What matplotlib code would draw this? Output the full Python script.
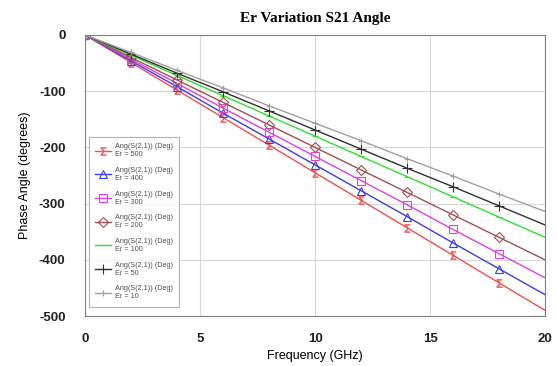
import numpy as np
import matplotlib
matplotlib.use('Agg')
import matplotlib.pyplot as plt

plt.rcParams['font.family'] = ['Liberation Sans', 'DejaVu Sans']
plt.rcParams['axes.unicode_minus'] = False

freq = [0, 2, 4, 6, 8, 10, 12, 14, 16, 18, 20]
er_labels = ['500', '400', '300', '200', '100', '50', '10']
angle_500 = [0, -49, -98, -147, -196, -245, -294, -343, -392, -441, -490]
angle_400 = [0, -46, -92, -139, -185, -231, -277, -323, -370, -416, -462]
angle_300 = [0, -43, -86, -130, -173, -216, -259, -302, -346, -389, -432]
angle_200 = [0, -40, -80, -120, -160, -200, -240, -280, -320, -360, -400]
angle_100 = [0, -36, -72, -108, -144, -180, -216, -252, -288, -324, -360]
angle_50 = [0, -34, -68, -101, -135, -169, -203, -237, -270, -304, -338]
angle_10 = [0, -31, -63, -94, -126, -157, -188, -220, -251, -283, -314]

series = [angle_500, angle_400, angle_300, angle_200, angle_100, angle_50, angle_10]
colors = ['#f05050', '#3c3cf0', '#e040e0', '#a05050', '#30e030', '#303030', '#a0a0a0']
markers = [r'$\Sigma$', '^', 's', 'D', '_', '+', '+']
msizes = [6, 6, 6, 5, 5, 7, 5]

fig = plt.figure(figsize=(5.57, 3.66), dpi=100)
ax = fig.add_axes([0.1526, 0.1366, 0.8259, 0.7678])

for vals, c, m, ms, er in zip(series, colors, markers, msizes, er_labels):
    filled = m.startswith('$')
    ax.plot(freq, vals, color=c, lw=1.0, marker=m, ms=ms, markevery=list(range(10)),
            mfc=c if filled else 'none', mec=c, mew=0.3 if filled else 0.8,
            label='Ang(S(2,1)) (Deg)\nEr = ' + er)

ax.set_xlim(0, 20)
ax.set_ylim(-500, 0)
ax.set_xticks([0, 5, 10, 15, 20])
ax.set_yticks([0, -100, -200, -300, -400, -500])
ax.grid(True, color='#d8d8d8', lw=0.8)
ax.tick_params(axis='y', length=0, labelsize=9.5, pad=14, labelcolor='#222222')
ax.tick_params(axis='x', length=0, labelsize=9.5, pad=12, labelcolor='#222222')
for lab in ax.get_xticklabels() + ax.get_yticklabels():
    lab.set_fontweight('bold')
for s in ax.spines.values():
    s.set_color('#808080')

ax.set_xlabel('Frequency (GHz)', fontsize=9, labelpad=4)
ax.set_ylabel('Phase Angle (degrees)', fontsize=9, labelpad=6)
ax.set_title('Er Variation S21 Angle', fontsize=11, fontweight='bold',
             family='Liberation Serif', pad=9)

leg = ax.legend(loc='lower left', fontsize=5.2, frameon=True, fancybox=False,
                edgecolor='#a0a0a0', handlelength=2.2, handletextpad=0.5,
                labelspacing=1.2, borderpad=0.9, bbox_to_anchor=(0.0, 0.02))
leg.get_frame().set_linewidth(0.8)
for t in leg.get_texts():
    t.set_color('#505050')

fig.savefig('out.png', dpi=100)
